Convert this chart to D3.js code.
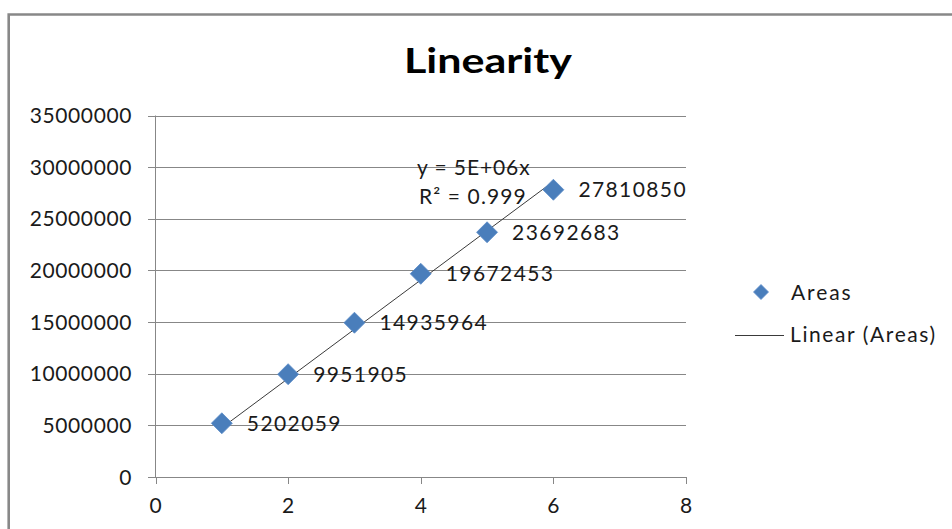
<!DOCTYPE html>
<html>
<head>
<meta charset="utf-8">
<script src="https://cdn.jsdelivr.net/npm/d3@7"></script>
<style>
  html, body { margin: 0; padding: 0; background: #fff; }
  svg { display: block; }
  text { font-family: Lato, "Open Sans", sans-serif; fill: #1a1a1a; }
</style>
</head>
<body>
<svg id="chart" width="952" height="529"></svg>
<script>
// ---- data ----
const xValues = [1, 2, 3, 4, 5, 6];
const areas = [5202059, 9951905, 14935964, 19672453, 23692683, 27810850];
const xTicks = [0, 2, 4, 6, 8];
const yTicks = [0, 5000000, 10000000, 15000000, 20000000, 25000000, 30000000, 35000000];
const titleText = "Linearity";
const seriesName = "Areas";
const trendName = "Linear (Areas)";
const equationText = "y = 5E+06x";
const r2Text = "R² = 0.999";

const svg = d3.select("#chart");
const gridColor = "#878787";
const fontSize = 21;

// frame
svg.append("path")
  .attr("d", "M8.7,529 L8.7,14.5 L952,14.5")
  .attr("fill", "none").attr("stroke", "#888").attr("stroke-width", 2.6);

// title
svg.append("text")
  .attr("x", 488).attr("y", 73)
  .attr("text-anchor", "middle")
  .attr("font-size", 35).attr("font-weight", "bold")
  .attr("textLength", 168).attr("lengthAdjust", "spacingAndGlyphs")
  .style("fill", "#000")
  .text(titleText);

const x = d3.scaleLinear().domain([0, 8]).range([155.5, 686]);
const y = d3.scaleLinear().domain([0, 35000000]).range([477, 115.5]);

// horizontal gridlines (with tick stubs to the left)
svg.append("g").selectAll("line").data(yTicks).join("line")
  .attr("x1", 148).attr("x2", x(8))
  .attr("y1", d => Math.round(y(d)) + 0.5).attr("y2", d => Math.round(y(d)) + 0.5)
  .attr("stroke", gridColor).attr("stroke-width", 1);

// y axis line
svg.append("line")
  .attr("x1", x(0)).attr("x2", x(0))
  .attr("y1", y(35000000)).attr("y2", y(0))
  .attr("stroke", gridColor).attr("stroke-width", 1);

// x tick marks
svg.append("g").selectAll("line").data(xTicks).join("line")
  .attr("x1", d => Math.round(x(d)) + 0.5).attr("x2", d => Math.round(x(d)) + 0.5)
  .attr("y1", y(0)).attr("y2", y(0) + 7)
  .attr("stroke", gridColor).attr("stroke-width", 1);

// y tick labels
svg.append("g").selectAll("text").data(yTicks).join("text")
  .attr("x", 132).attr("y", d => y(d) + 7.5)
  .attr("text-anchor", "end")
  .attr("font-size", fontSize)
  .attr("letter-spacing", 0.6)
  .text(d => d3.format("d")(d));

// x tick labels
svg.append("g").selectAll("text").data(xTicks).join("text")
  .attr("x", d => x(d)).attr("y", 513)
  .attr("text-anchor", "middle")
  .attr("font-size", fontSize)
  .text(d => d);

// trendline through origin (least squares with zero intercept)
const slope = d3.sum(xValues, (v, i) => v * areas[i]) / d3.sum(xValues, v => v * v);
const xMin = d3.min(xValues), xMax = d3.max(xValues);
svg.append("line")
  .attr("x1", x(xMin)).attr("y1", y(slope * xMin))
  .attr("x2", x(xMax)).attr("y2", y(slope * xMax))
  .attr("stroke", "#3a3a3a").attr("stroke-width", 1);

// diamonds
const diamond = s => `M0,${-s} L${s},0 L0,${s} L${-s},0 Z`;
const pts = xValues.map((v, i) => ({ x: v, y: areas[i] }));
svg.append("g").selectAll("path").data(pts).join("path")
  .attr("transform", d => `translate(${x(d.x)},${y(d.y)})`)
  .attr("d", diamond(10.5))
  .attr("fill", "#4A7EBB").attr("stroke", "#5B8CC8").attr("stroke-width", 0.8);

// data labels
svg.append("g").selectAll("text").data(pts).join("text")
  .attr("x", d => x(d.x) + 25).attr("y", d => y(d.y) + 7.5)
  .attr("font-size", fontSize)
  .attr("letter-spacing", 1.4)
  .text(d => d.y);

// equation label
svg.append("text").attr("x", 417).attr("y", 175)
  .attr("font-size", fontSize).attr("letter-spacing", 0.9).text(equationText);
svg.append("text").attr("x", 419).attr("y", 204)
  .attr("font-size", fontSize).attr("letter-spacing", 1.1).text(r2Text);

// legend
const lg = svg.append("g");
lg.append("path").attr("transform", "translate(761,292)").attr("d", diamond(7.5))
  .attr("fill", "#4A7EBB").attr("stroke", "#5B8CC8").attr("stroke-width", 0.8);
lg.append("text").attr("x", 791).attr("y", 299.5).attr("font-size", fontSize)
  .attr("letter-spacing", 1.9).text(seriesName);
lg.append("line").attr("x1", 735).attr("x2", 784).attr("y1", 335.5).attr("y2", 335.5)
  .attr("stroke", "#3a3a3a").attr("stroke-width", 1);
lg.append("text").attr("x", 790).attr("y", 342).attr("font-size", fontSize)
  .attr("letter-spacing", 1.6).text(trendName);
</script>
</body>
</html>
